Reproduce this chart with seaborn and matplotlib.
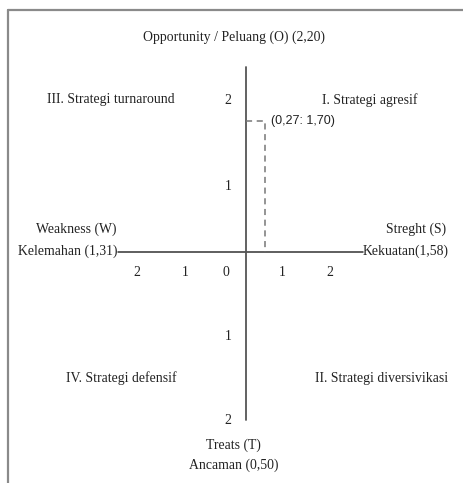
import pandas as pd
import seaborn as sns
import matplotlib.pyplot as plt

# position of the company on the SWOT grid
point_x = 0.27
point_y = 1.70
point_label = '(0,27: 1,70)'

# axis-end captions
top_label = 'Opportunity / Peluang (O) (2,20)'
left_labels = ['Weakness (W)', 'Kelemahan (1,31)']
right_labels = ['Streght (S)', 'Kekuatan(1,58)']
bottom_labels = ['Treats (T)', 'Ancaman (0,50)']

quadrants = ['I. Strategi agresif', 'II. Strategi diversivikasi',
             'III. Strategi turnaround', 'IV. Strategi defensif']

x_tick_labels = ['2', '1', '0', '1', '2']
y_tick_labels = ['2', '1', '1', '2']

W, H = 463, 483
OX, OY = 246, 252          # pixel position of the origin
SX, SY = 70, 77            # pixels per unit

sns.set_theme(style='white')
plt.rcParams['font.family'] = ['Liberation Serif', 'DejaVu Serif']

fig = plt.figure(figsize=(W / 100, H / 100), dpi=100)
ax = fig.add_axes([0, 0, 1, 1])
ax.set_xlim(-OX / SX, (W - OX) / SX)
ax.set_ylim(-(H - OY) / SY, OY / SY)
ax.axis('off')


def d(px, py):
    return (px - OX) / SX, (OY - py) / SY


txt = dict(color='#222222', fontsize=9.9)

# frame (only top and left visible)
bx0, by0 = d(8, 10)
ax.plot([bx0, bx0], [by0, ax.get_ylim()[0]], color='#8a8a8a', lw=1.6)
ax.plot([bx0, ax.get_xlim()[1]], [by0, by0], color='#8a8a8a', lw=1.6)

# axes
hx0, _ = d(118, 0)
hx1, _ = d(363, 0)
_, vy0 = d(0, 67)
_, vy1 = d(0, 420)
ax.plot([hx0, hx1], [0, 0], color='#333333', lw=1.1)
ax.plot([0, 0], [vy0, vy1], color='#555555', lw=1.3)

# dashed guide to the point
guide = pd.DataFrame({'x': [0, point_x, point_x], 'y': [point_y, point_y, 0]})
sns.lineplot(data=guide, x='x', y='y', sort=False, estimator=None,
             errorbar=None, ax=ax, color='#777777', lw=1.1,
             linestyle=(0, (4, 3)))
ax.text(point_x + 6 / SX, point_y, point_label, family='Liberation Sans',
        fontsize=9, color='#222222', va='center', ha='left')

# captions
ax.text(*d(234, 37), top_label, ha='center', va='center', **txt)
ax.text(*d(116, 229), left_labels[0], ha='right', va='center', **txt)
ax.text(*d(117, 251), left_labels[1], ha='right', va='center', **txt)
ax.text(*d(446, 229), right_labels[0], ha='right', va='center', **txt)
ax.text(*d(363, 251), right_labels[1], ha='left', va='center', **txt)
ax.text(*d(233, 445), bottom_labels[0], ha='center', va='center', **txt)
ax.text(*d(234, 465), bottom_labels[1], ha='center', va='center', **txt)

ax.text(*d(370, 100), quadrants[0], ha='center', va='center', **txt)
ax.text(*d(382, 378), quadrants[1], ha='center', va='center', **txt)
ax.text(*d(111, 100), quadrants[2], ha='center', va='center', **txt)
ax.text(*d(121, 378), quadrants[3], ha='center', va='center', **txt)

# tick labels
for lab, px in zip(x_tick_labels, [137, 185, 226, 282, 330]):
    ax.text(*d(px, 272), lab, ha='center', va='center', **txt)
for lab, py in zip(y_tick_labels, [100, 187, 337, 420]):
    ax.text(*d(228, py), lab, ha='center', va='center', **txt)

fig.savefig('out.png', dpi=100)
